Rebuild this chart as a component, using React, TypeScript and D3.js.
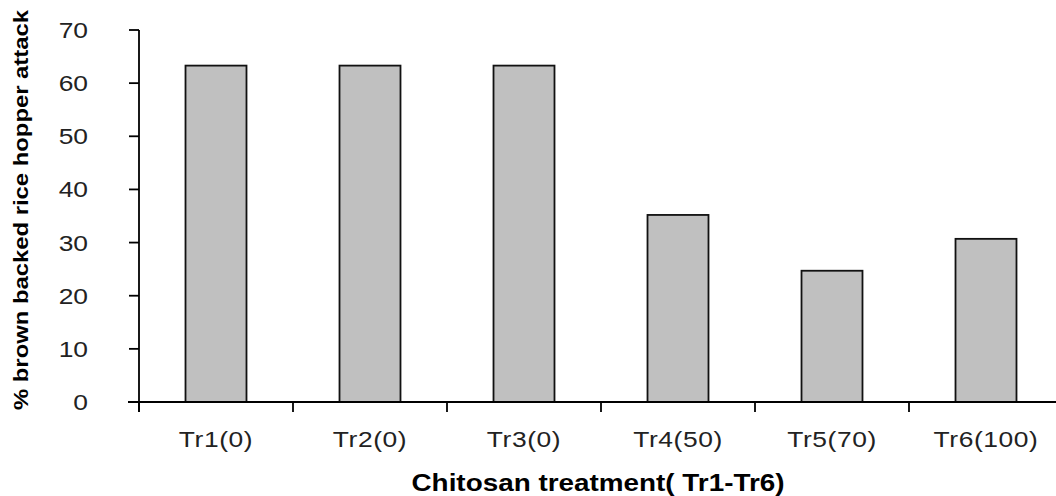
import React from "react";
import * as d3 from "d3";

const categories = ["Tr1(0)", "Tr2(0)", "Tr3(0)", "Tr4(50)", "Tr5(70)", "Tr6(100)"];
const values = [63.3, 63.3, 63.3, 35.2, 24.7, 30.7];
const yTicks = [0, 10, 20, 30, 40, 50, 60, 70];
const xTitle = "Chitosan treatment( Tr1-Tr6)";
const yTitle = "% brown backed rice hopper attack";

const W = 1056;
const H = 496;
const FONT = "'Liberation Sans', Arial, sans-serif";

export default function App() {
  const x = d3.scaleBand<string>().domain(categories).range([139, 1063]).padding(0);
  const y = d3.scaleLinear().domain([0, 70]).range([402, 30]);
  const step = x.step();
  const barW = step * 0.396;
  const sx = 1.2;

  return (
    <svg
      width={W}
      height={H}
      style={{ position: "absolute", left: 0, top: 0, display: "block", background: "#fff" }}
    >
      <rect x={0} y={0} width={W} height={H} fill="#fff" />
      {/* bars */}
      {categories.map((c, i) => {
        const cx = (x(c) as number) + step / 2;
        return (
          <rect
            key={c}
            x={cx - barW / 2}
            y={y(values[i])}
            width={barW}
            height={y(0) - y(values[i])}
            fill="#c0c0c0"
            stroke="#111"
            strokeWidth={1.8}
          />
        );
      })}
      {/* y axis */}
      <line x1={139} x2={139} y1={y(70)} y2={412} stroke="#000" strokeWidth={1.8} />
      {yTicks.map((t) => (
        <g key={t}>
          <line x1={129} x2={139} y1={y(t)} y2={y(t)} stroke="#000" strokeWidth={1.8} />
          <text
            transform={`translate(88,${y(t) + 8}) scale(${sx},1)`}
            textAnchor="end"
            fontFamily={FONT}
            fontSize={22}
            fill="#222"
          >
            {t}
          </text>
        </g>
      ))}
      {/* x axis */}
      <line x1={128} x2={W} y1={y(0)} y2={y(0)} stroke="#000" strokeWidth={1.8} />
      {categories.map((c) => (
        <line
          key={"t" + c}
          x1={x(c) as number}
          x2={x(c) as number}
          y1={y(0)}
          y2={412}
          stroke="#000"
          strokeWidth={1.8}
        />
      ))}
      {categories.map((c) => (
        <text
          key={"l" + c}
          transform={`translate(${(x(c) as number) + step / 2},447) scale(${sx},1)`}
          textAnchor="middle"
          fontFamily={FONT}
          fontSize={22}
          fill="#222"
          letterSpacing={0.5}
        >
          {c}
        </text>
      ))}
      {/* titles */}
      <text
        x={598}
        y={491}
        textAnchor="middle"
        fontFamily={FONT}
        fontSize={23}
        fontWeight="bold"
        fill="#000"
        textLength={373}
        lengthAdjust="spacingAndGlyphs"
      >
        {xTitle}
      </text>
      <text
        transform={`translate(28,210) rotate(-90)`}
        textAnchor="middle"
        fontFamily={FONT}
        fontSize={21}
        fontWeight="bold"
        fill="#000"
        textLength={400}
        lengthAdjust="spacingAndGlyphs"
      >
        {yTitle}
      </text>
    </svg>
  );
}
